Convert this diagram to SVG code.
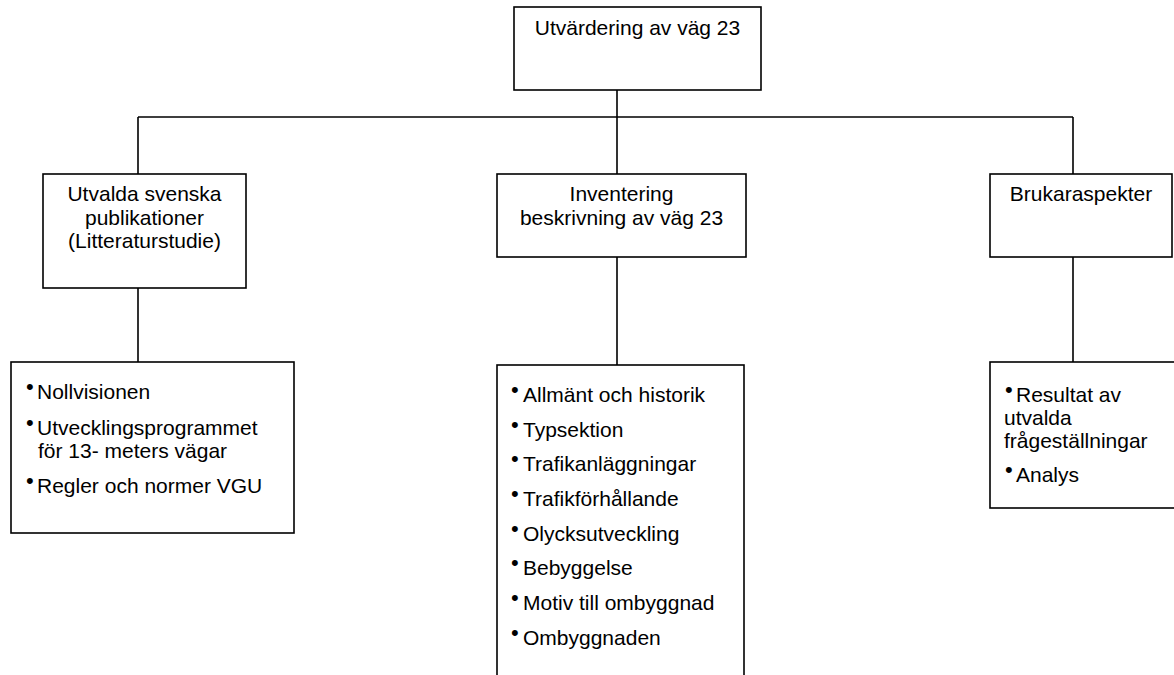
<svg xmlns="http://www.w3.org/2000/svg" width="1174" height="675" viewBox="0 0 1174 675">
<style>
.box{fill:#fff;stroke:#000;stroke-width:1.6}
.ln{stroke:#000;stroke-width:1.6;fill:none}
text{font-family:"Liberation Sans",Arial,sans-serif;font-size:21px;fill:#000}
.c{text-anchor:middle}
.b{font-size:22px}
</style>
<rect width="1174" height="675" fill="#fff"/>
<g id="connectors">
<path class="ln" d="M617,90V117M138,117H1073M138,117V174M617,117V174M1073,117V174M138,288V362M617,257V365M1073,257V362"/>
</g>
<g id="root">
<rect class="box" x="514" y="7" width="247" height="83"/>
<text class="c" x="637.5" y="35">Utvärdering av väg 23</text>
</g>
<g id="publ">
<rect class="box" x="43" y="174" width="203" height="114"/>
<text class="c" x="144.5" y="201">Utvalda svenska</text>
<text class="c" x="144.5" y="225">publikationer</text>
<text class="c" x="144.5" y="248">(Litteraturstudie)</text>
</g>
<g id="inv">
<rect class="box" x="497" y="174" width="249" height="83"/>
<text class="c" x="621.5" y="201">Inventering</text>
<text class="c" x="621.5" y="225">beskrivning av väg 23</text>
</g>
<g id="bruk">
<rect class="box" x="990" y="174" width="182" height="83"/>
<text class="c" x="1081" y="201">Brukaraspekter</text>
</g>
<g id="publ-list">
<rect class="box" x="11" y="362" width="283" height="171"/>
<text class="b" x="26" y="394">•</text><text x="37" y="399">Nollvisionen</text>
<text class="b" x="26" y="430">•</text><text x="37" y="435">Utvecklingsprogrammet</text>
<text x="38" y="458">för 13- meters vägar</text>
<text class="b" x="26" y="488">•</text><text x="37" y="493">Regler och normer VGU</text>
</g>
<g id="inv-list">
<rect class="box" x="497" y="365" width="247" height="330"/>
<text class="b" x="511" y="397">•</text><text x="523" y="402">Allmänt och historik</text>
<text class="b" x="511" y="432">•</text><text x="523" y="437">Typsektion</text>
<text class="b" x="511" y="466">•</text><text x="523" y="471">Trafikanläggningar</text>
<text class="b" x="511" y="501">•</text><text x="523" y="506">Trafikförhållande</text>
<text class="b" x="511" y="536">•</text><text x="523" y="541">Olycksutveckling</text>
<text class="b" x="511" y="570">•</text><text x="523" y="575">Bebyggelse</text>
<text class="b" x="511" y="605">•</text><text x="523" y="610">Motiv till ombyggnad</text>
<text class="b" x="511" y="640">•</text><text x="523" y="645">Ombyggnaden</text>
</g>
<g id="bruk-list">
<rect class="box" x="990" y="362" width="200" height="146"/>
<text class="b" x="1005" y="397">•</text><text x="1016" y="402">Resultat av</text>
<text x="1004" y="425">utvalda</text>
<text x="1004" y="448">frågeställningar</text>
<text class="b" x="1005" y="477">•</text><text x="1016" y="482">Analys</text>
</g>
</svg>
